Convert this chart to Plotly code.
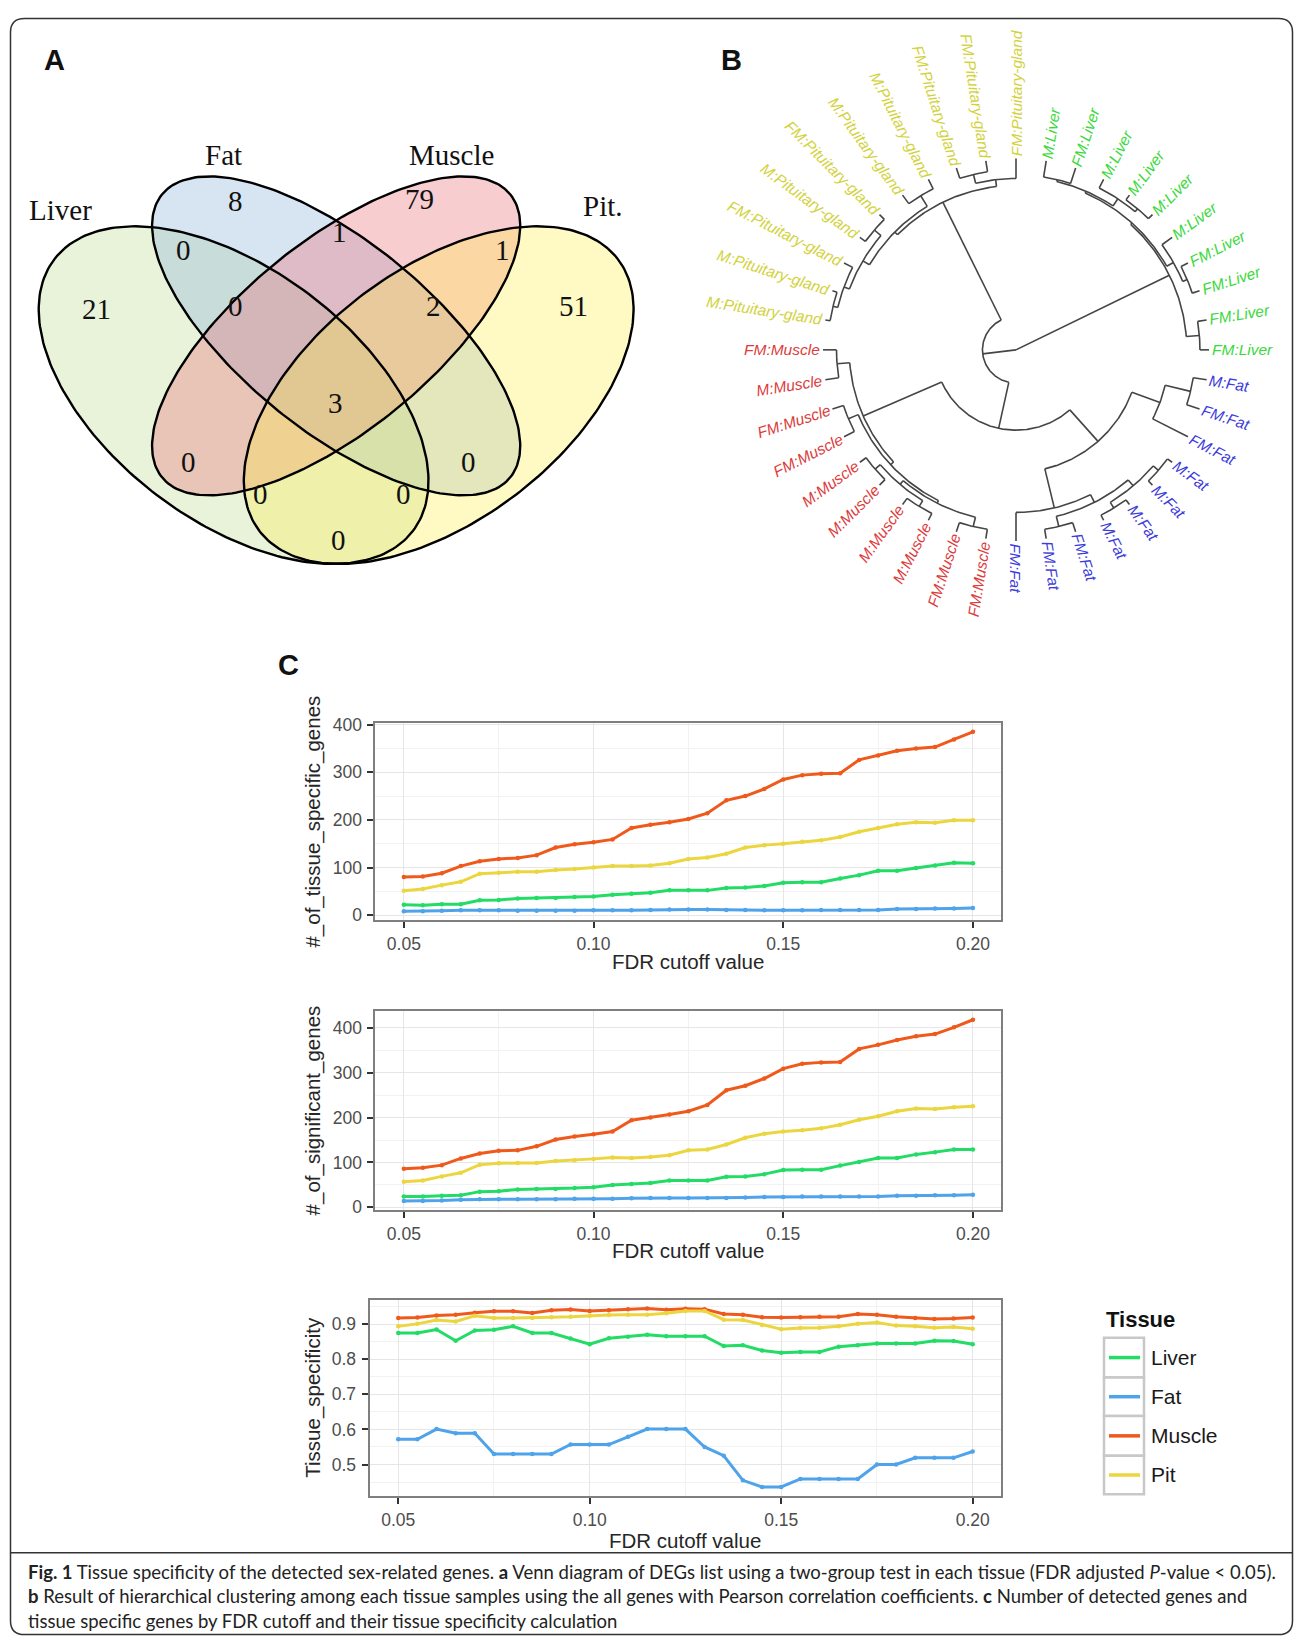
import numpy as np
import plotly.graph_objects as go

W, H = 1295, 1644

# ======================= DATA =======================
# ---- Panel A: Venn diagram (number of sex-related DEGs) ----
venn_sets = ["Liver", "Fat", "Muscle", "Pit."]
venn_regions = ["Liver", "Fat", "Muscle", "Pit", "Liver&Fat", "Fat&Muscle", "Muscle&Pit",
                "Liver&Fat&Muscle", "Fat&Muscle&Pit", "Liver&Fat&Muscle&Pit", "Liver&Muscle",
                "Fat&Pit", "Liver&Muscle&Pit", "Liver&Fat&Pit", "Liver&Pit"]
venn_counts = [21, 8, 79, 51, 0, 1, 1, 0, 2, 3, 0, 0, 0, 0, 0]

# ---- Panel B: hierarchical clustering (leaf order, clockwise from the right) ----
dendro_leaves = [
    "M:Fat", "FM:Fat", "FM:Fat", "M:Fat", "M:Fat", "M:Fat", "M:Fat", "FM:Fat", "FM:Fat", "FM:Fat",
    "FM:Muscle", "FM:Muscle", "M:Muscle", "M:Muscle", "M:Muscle", "M:Muscle", "FM:Muscle", "FM:Muscle", "M:Muscle", "FM:Muscle",
    "M:Pituitary-gland", "M:Pituitary-gland", "FM:Pituitary-gland", "M:Pituitary-gland", "FM:Pituitary-gland",
    "M:Pituitary-gland", "M:Pituitary-gland", "FM:Pituitary-gland", "FM:Pituitary-gland", "FM:Pituitary-gland",
    "M:Liver", "FM:Liver", "M:Liver", "M:Liver", "M:Liver", "M:Liver", "FM:Liver", "FM:Liver", "FM:Liver", "FM:Liver",
]
# merge tree: [node depth from root (leaf = 1), child, child]; ints are leaf indices
tree_liver = [0.885, [0.895, [0.905, [0.915, 30, 31], [0.95, 32, [0.97, 33, 34]]], [0.935, 35, [0.96, 36, 37]]],
              [0.953, 38, 39]]
tree_pit = [0.86, [0.88, [0.92, [0.95, [0.975, 20, 21], 22], [0.965, 23, 24]], [0.945, 25, 26]],
            [0.896, [0.943, 27, 28], 29]]
tree_muscle = [0.864, [0.93, 19, 18],
               [0.885, [0.94, 17, 16], [0.90, [0.925, [0.96, 15, 14], [0.96, 13, 12]], [0.95, 11, 10]]]]
tree_fat = [0.64, [0.795, [0.93, 0, 1], 2],
            [0.85, 9, [0.895, [0.95, 8, 7], [0.935, [0.97, 6, 5], [0.97, 4, 3]]]]]
dendro_tree = [0.0, tree_liver, [0.174, tree_pit, [0.42, tree_muscle, tree_fat]]]

# ---- Panel C ----
tissues = ["Liver", "Fat", "Muscle", "Pit"]
fdr_cutoff = [0.050, 0.055, 0.060, 0.065, 0.070, 0.075, 0.080, 0.085, 0.090, 0.095,
              0.100, 0.105, 0.110, 0.115, 0.120, 0.125, 0.130, 0.135, 0.140, 0.145,
              0.150, 0.155, 0.160, 0.165, 0.170, 0.175, 0.180, 0.185, 0.190, 0.195, 0.200]
x_tick_labels = ["0.05", "0.10", "0.15", "0.20"]

spec_liver = [22, 21, 23, 23, 31, 32, 35, 36, 36, 38, 39, 43, 45, 47, 52, 52, 52, 57, 58, 61,
              68, 69, 69, 77, 84, 93, 93, 99, 104, 110, 109]
spec_fat = [8, 8, 9, 10, 10, 10, 9, 9, 9, 9, 10, 10, 10, 11, 12, 12, 12, 11, 11, 10,
            10, 10, 11, 11, 11, 11, 13, 13, 14, 14, 15]
spec_muscle = [80, 81, 88, 103, 113, 118, 120, 126, 142, 149, 153, 159, 183, 190, 195, 202, 214, 241, 250, 265,
               285, 294, 297, 298, 326, 335, 345, 350, 353, 369, 385]
spec_pit = [51, 55, 63, 70, 87, 89, 91, 91, 95, 97, 100, 103, 103, 104, 109, 118, 121, 129, 142, 147,
            150, 154, 157, 164, 175, 183, 191, 195, 194, 199, 199]

sig_liver = [24, 24, 26, 27, 35, 36, 40, 41, 41, 43, 45, 50, 52, 54, 60, 60, 60, 68, 69, 74,
             83, 84, 84, 93, 101, 110, 110, 118, 123, 129, 129]
sig_fat = [14, 14, 15, 17, 18, 18, 18, 18, 18, 19, 19, 19, 20, 21, 21, 21, 21, 21, 22, 23,
           23, 24, 24, 24, 24, 24, 26, 26, 27, 27, 28]
sig_muscle = [86, 88, 94, 109, 120, 126, 127, 136, 151, 158, 163, 169, 194, 200, 207, 214, 228, 261, 271, 287,
              309, 320, 323, 324, 353, 362, 373, 381, 386, 401, 418]
sig_pit = [57, 60, 69, 77, 95, 98, 99, 99, 103, 105, 108, 111, 110, 112, 116, 127, 129, 140, 155, 164,
           169, 172, 176, 184, 195, 203, 214, 220, 219, 223, 225]

ts_liver = [0.875, 0.875, 0.885, 0.853, 0.882, 0.884, 0.894, 0.875, 0.875, 0.859,
            0.843, 0.860, 0.864, 0.870, 0.866, 0.866, 0.866, 0.838, 0.840, 0.825,
            0.819, 0.821, 0.821, 0.836, 0.840, 0.845, 0.845, 0.845, 0.853, 0.852, 0.843]
ts_fat = [0.572, 0.572, 0.601, 0.589, 0.589, 0.530, 0.530, 0.530, 0.530, 0.557,
          0.557, 0.557, 0.579, 0.601, 0.601, 0.601, 0.550, 0.525, 0.455, 0.436,
          0.436, 0.459, 0.459, 0.459, 0.459, 0.500, 0.500, 0.519, 0.519, 0.519, 0.537]
ts_muscle = [0.918, 0.919, 0.925, 0.927, 0.933, 0.937, 0.937, 0.932, 0.940, 0.942,
             0.938, 0.940, 0.943, 0.945, 0.941, 0.944, 0.943, 0.929, 0.927, 0.920,
             0.919, 0.920, 0.921, 0.921, 0.929, 0.927, 0.921, 0.918, 0.915, 0.916, 0.919]
ts_pit = [0.894, 0.901, 0.912, 0.908, 0.924, 0.918, 0.918, 0.918, 0.920, 0.921,
          0.924, 0.926, 0.927, 0.927, 0.931, 0.938, 0.938, 0.913, 0.912, 0.898,
          0.886, 0.889, 0.890, 0.894, 0.901, 0.905, 0.896, 0.894, 0.890, 0.892, 0.887]

# ======================= STYLE / LAYOUT =======================
def xdom(p0, p1):
    return [p0 / W, p1 / W]

def ydom(top, bot):
    return [1 - bot / H, 1 - top / H]

def PX(x):
    return x / W

def PY(y):
    return 1 - y / H

fig = go.Figure()
annotations = []
shapes = []

SANS = "Liberation Sans, Arial, sans-serif"
SERIF = "Liberation Serif, Times New Roman, serif"

def note(**kw):
    kw.setdefault("xanchor", "center")
    kw.setdefault("yanchor", "middle")
    kw.setdefault("showarrow", False)
    annotations.append(kw)

# ---------------- Panel A : Venn ----------------
venn_ellipses = {  # centre x, centre y, semi-major, semi-minor, rotation (deg)
    "Liver": (0.35, 0.47, 0.35, 0.20, 135),
    "Fat": (0.50, 0.57, 0.35, 0.15, 135),
    "Muscle": (0.50, 0.57, 0.35, 0.15, 45),
    "Pit.": (0.65, 0.47, 0.35, 0.20, 45),
}
venn_fill = {
    "Liver": "rgba(189,221,149,0.35)",
    "Fat": "rgba(141,178,218,0.35)",
    "Muscle": "rgba(235,112,121,0.35)",
    "Pit.": "rgba(255,240,60,0.30)",
}
venn_set_label_pos = {"Liver": (0.097, 0.783), "Fat": (0.335, 0.876),
                      "Muscle": (0.668, 0.876), "Pit.": (0.890, 0.790)}
venn_count_pos = {
    "Liver": (0.149, 0.615), "Fat": (0.353, 0.797), "Muscle": (0.622, 0.801), "Pit": (0.847, 0.620),
    "Liver&Fat": (0.277, 0.715), "Fat&Muscle": (0.505, 0.746), "Muscle&Pit": (0.743, 0.715),
    "Liver&Fat&Muscle": (0.353, 0.620), "Fat&Muscle&Pit": (0.642, 0.620),
    "Liver&Fat&Muscle&Pit": (0.499, 0.457), "Liver&Muscle": (0.284, 0.357), "Fat&Pit": (0.694, 0.357),
    "Liver&Muscle&Pit": (0.389, 0.303), "Liver&Fat&Pit": (0.599, 0.303), "Liver&Pit": (0.504, 0.225),
}

t = np.linspace(0, 2 * np.pi, 240)
ell_xy = {}
for s in venn_sets:
    cx, cy, a, b, rot = venn_ellipses[s]
    th = np.deg2rad(rot)
    ex = cx + a * np.cos(t) * np.cos(th) - b * np.sin(t) * np.sin(th)
    ey = cy + a * np.cos(t) * np.sin(th) + b * np.sin(t) * np.cos(th)
    ell_xy[s] = (ex, ey)
    fig.add_trace(go.Scatter(x=ex, y=ey, xaxis="x", yaxis="y", mode="lines", fill="toself",
                             fillcolor=venn_fill[s], line=dict(width=0), hoverinfo="skip",
                             showlegend=False))
for s in venn_sets:
    ex, ey = ell_xy[s]
    fig.add_trace(go.Scatter(x=ex, y=ey, xaxis="x", yaxis="y", mode="lines",
                             line=dict(color="black", width=2.4), hoverinfo="skip", showlegend=False))
for s in venn_sets:
    ux, uy = venn_set_label_pos[s]
    note(x=ux, y=uy, xref="x", yref="y", text=s, font=dict(family=SERIF, size=29, color="#111"))
for reg, cnt in zip(venn_regions, venn_counts):
    ux, uy = venn_count_pos[reg]
    note(x=ux, y=uy, xref="x", yref="y", text=str(cnt), font=dict(family=SERIF, size=29, color="#111"))

# ---------------- Panel B : circular dendrogram ----------------
CX, CY, R = 1016, 345, 193
LEAF_STEP = 360.0 / len(dendro_leaves)
tissue_col = {"Fat": "#3c3cdc", "Muscle": "#dc3c3c", "Pituitary-gland": "#d2d23c", "Liver": "#3cd83c"}

seg_x, seg_y = [], []

def pol(r, ang):
    a = np.deg2rad(ang)
    return r * np.cos(a), -r * np.sin(a)

def draw_node(node):
    if isinstance(node, int):
        return LEAF_STEP * (node + 1), 1.0
    r, c1, c2 = node
    a1, r1 = draw_node(c1)
    a2, r2 = draw_node(c2)
    for ang, rc in ((a1, r1), (a2, r2)):
        x0, y0 = pol(r, ang)
        x1, y1 = pol(rc, ang)
        seg_x.extend([x0, x1, None])
        seg_y.extend([y0, y1, None])
    if r > 0:
        lo, hi = sorted([a1, a2])
        angs = np.linspace(lo, hi, max(4, int((hi - lo) * 1.5)))
        ax, ay = pol(r, angs)
        seg_x.extend(list(ax) + [None])
        seg_y.extend(list(ay) + [None])
    return (a1 + a2) / 2, r

draw_node(dendro_tree)
fig.add_trace(go.Scatter(x=seg_x, y=seg_y, xaxis="x2", yaxis="y2", mode="lines",
                         line=dict(color="#454545", width=1.6), hoverinfo="skip", showlegend=False))

ARIAL_W = {'F': 611, 'M': 833, ':': 278, 'P': 667, 'i': 222, 't': 278, 'u': 556, 'a': 556, 'r': 333,
           'y': 500, '-': 333, 'g': 556, 'l': 222, 'n': 556, 'd': 556, 'L': 556, 'v': 500, 'e': 556,
           's': 500, 'c': 500}
LEAF_FS = 15.5
LEAF_GAP = 3.0
for i, lab in enumerate(dendro_leaves):
    ang = LEAF_STEP * (i + 1)
    w = sum(ARIAL_W.get(ch, 556) for ch in lab) * LEAF_FS / 1000.0
    rc = 1 + (LEAF_GAP + w / 2) / R
    x, y = pol(rc, ang)
    norm = ((ang + 180) % 360) - 180
    if -90 <= norm <= 90:
        ta = norm
    else:
        ta = norm - 180 if norm > 0 else norm + 180
    col = tissue_col[lab.split(":")[1]]
    note(x=x, y=y, xref="x2", yref="y2", text="<i>" + lab + "</i>", textangle=ta,
         font=dict(family=SANS, size=LEAF_FS, color=col))

# ---------------- Panel C : line charts ----------------
line_col = {"Liver": "#22dc66", "Fat": "#4ea3ea", "Muscle": "#ef5a1c", "Pit": "#ecd640"}
panels = [
    dict(n=3, xl=375.4, xr=1001.4, yt=721.4, yb=920.7, title="#_of_tissue_specific_genes",
         series=[spec_liver, spec_fat, spec_muscle, spec_pit],
         yticks=[0, 100, 200, 300, 400], yticktext=["0", "100", "200", "300", "400"],
         yminor=[50, 150, 250, 350], xtitle_y=962),
    dict(n=4, xl=375.4, xr=1001.4, yt=1011.9, yb=1213.2, title="#_of_significant_genes",
         series=[sig_liver, sig_fat, sig_muscle, sig_pit],
         yticks=[0, 100, 200, 300, 400], yticktext=["0", "100", "200", "300", "400"],
         yminor=[50, 150, 250, 350], xtitle_y=1253.5),
    dict(n=5, xl=369.5, xr=1001.4, yt=1303.4, yb=1501.6, title="Tissue_specificity",
         series=[ts_liver, ts_fat, ts_muscle, ts_pit],
         yticks=[0.5, 0.6, 0.7, 0.8, 0.9], yticktext=["0.5", "0.6", "0.7", "0.8", "0.9"],
         yminor=[0.45, 0.55, 0.65, 0.75, 0.85, 0.95], xtitle_y=1547),
]
xmin, xmax = min(fdr_cutoff), max(fdr_cutoff)
xpad = 0.05 * (xmax - xmin)
layout_axes = {}
for p in panels:
    n = p["n"]
    allv = [v for s in p["series"] for v in s]
    ymin, ymax = min(allv), max(allv)
    ypad = 0.05 * (ymax - ymin)
    for tis, ser in zip(tissues, p["series"]):
        fig.add_trace(go.Scatter(x=fdr_cutoff, y=ser, xaxis=f"x{n}", yaxis=f"y{n}", mode="lines+markers",
                                 line=dict(color=line_col[tis], width=3),
                                 marker=dict(color=line_col[tis], size=4.5),
                                 name=tis, showlegend=False, hoverinfo="skip"))
    common = dict(showline=True, linecolor="#7f7f7f", linewidth=2, mirror=True,
                  ticks="outside", ticklen=6, tickwidth=2, tickcolor="#333333",
                  tickfont=dict(family=SANS, size=17.5, color="#4d4d4d"),
                  showgrid=True, gridcolor="#e6e6e6", gridwidth=1.2, zeroline=False, fixedrange=True)
    layout_axes[f"xaxis{n}"] = dict(domain=xdom(p["xl"], p["xr"]), range=[xmin - xpad, xmax + xpad],
                                    anchor=f"y{n}", tickmode="array",
                                    tickvals=[0.05, 0.10, 0.15, 0.20], ticktext=x_tick_labels,
                                    minor=dict(tickmode="array", tickvals=[0.075, 0.125, 0.175], showgrid=True,
                                               gridcolor="#f2f2f2", gridwidth=1, ticks=""),
                                    ticklabelstandoff=1, **common)
    layout_axes[f"yaxis{n}"] = dict(domain=ydom(p["yt"], p["yb"]), range=[ymin - ypad, ymax + ypad],
                                    anchor=f"x{n}", tickmode="array",
                                    tickvals=p["yticks"], ticktext=p["yticktext"],
                                    minor=dict(tickmode="array", tickvals=p["yminor"], showgrid=True,
                                               gridcolor="#f2f2f2", gridwidth=1, ticks=""),
                                    ticklabelstandoff=2, **common)
    note(x=PX(313), y=PY((p["yt"] + p["yb"]) / 2), xref="paper", yref="paper",
         text=p["title"], textangle=-90, font=dict(family=SANS, size=20.5, color="#262626"))
    note(x=PX((p["xl"] + p["xr"]) / 2), y=PY(p["xtitle_y"]), xref="paper", yref="paper",
         text="FDR cutoff value", font=dict(family=SANS, size=20.5, color="#262626"))

# legend for panel C (ggplot-style keys)
note(x=PX(1104), y=PY(1324), xref="paper", yref="paper", text="<b>Tissue</b>", xanchor="left",
     font=dict(family=SANS, size=22, color="#111"))
leg_rows = [(1342, 1382), (1382, 1421), (1421, 1461), (1461, 1500)]
for tis, (r0, r1) in zip(tissues, leg_rows):
    shapes.append(dict(type="rect", xref="paper", yref="paper", x0=PX(1104), x1=PX(1144), y0=PY(r1), y1=PY(r0),
                       line=dict(color="#c8c8c8", width=2.5), fillcolor="white", layer="above"))
    ym = (r0 + r1) / 2
    shapes.append(dict(type="line", xref="paper", yref="paper", x0=PX(1109), x1=PX(1140), y0=PY(ym), y1=PY(ym),
                       line=dict(color=line_col[tis], width=3.5), layer="above"))
    note(x=PX(1149), y=PY(ym), xref="paper", yref="paper", text=tis, xanchor="left",
         font=dict(family=SANS, size=21, color="#1a1a1a"))

# panel letters
for letter, (lx, ly) in {"A": (54.5, 52.4), "B": (731, 52.4), "C": (288.4, 662.7)}.items():
    note(x=PX(lx), y=PY(ly), xref="paper", yref="paper", text="<b>" + letter + "</b>",
         font=dict(family=SANS, size=29, color="#111"))

# caption
caption_lines = [
    "<b>Fig. 1</b> Tissue specificity of the detected sex-related genes. <b>a</b> Venn diagram of DEGs list using a "
    "two-group test in each tissue (FDR adjusted <i>P</i>-value &lt; 0.05).",
    "<b>b</b> Result of hierarchical clustering among each tissue samples using the all genes with Pearson "
    "correlation coefficients. <b>c</b> Number of detected genes and",
    "tissue specific genes by FDR cutoff and their tissue specificity calculation",
]
for k, line in enumerate(caption_lines):
    note(x=PX(26), y=PY(1578 + 25 * k), xref="paper", yref="paper", text=line, xanchor="left",
         font=dict(family="Lato, Roboto, sans-serif", size=18.5, color="#222"))

# outer rounded frame and caption separator
x0f, y0f, x1f, y1f, rr = 10.5, 10.5, 1292.5, 1641.5, 14
frame = (f"M {PX(x0f + rr)},{PY(y0f)} L {PX(x1f - rr)},{PY(y0f)} Q {PX(x1f)},{PY(y0f)} {PX(x1f)},{PY(y0f + rr)} "
         f"L {PX(x1f)},{PY(y1f - rr)} Q {PX(x1f)},{PY(y1f)} {PX(x1f - rr)},{PY(y1f)} "
         f"L {PX(x0f + rr)},{PY(y1f)} Q {PX(x0f)},{PY(y1f)} {PX(x0f)},{PY(y1f - rr)} "
         f"L {PX(x0f)},{PY(y0f + rr)} Q {PX(x0f)},{PY(y0f)} {PX(x0f + rr)},{PY(y0f)} Z")
shapes.append(dict(type="path", xref="paper", yref="paper", path=frame, line=dict(color="#333", width=1.5)))
shapes.append(dict(type="line", xref="paper", yref="paper", x0=PX(x0f), x1=PX(x1f), y0=PY(1559), y1=PY(1559),
                   line=dict(color="#333", width=1.5)))

hidden = dict(visible=False, showgrid=False, zeroline=False, fixedrange=True)
fig.update_layout(
    width=W, height=H, margin=dict(l=0, r=0, t=0, b=0),
    paper_bgcolor="white", plot_bgcolor="white", showlegend=False,
    xaxis=dict(domain=xdom(28.49, 643.8), range=[0.05, 0.95], anchor="y", **hidden),
    yaxis=dict(domain=ydom(133.67, 581.95), range=[0.15, 0.90], anchor="x", **hidden),
    xaxis2=dict(domain=xdom(CX - 1.45 * R, CX + 1.40 * R), range=[-1.45, 1.40], anchor="y2", **hidden),
    yaxis2=dict(domain=ydom(CY - 1.45 * R, CY + 1.45 * R), range=[-1.45, 1.45], anchor="x2", **hidden),
    annotations=annotations, shapes=shapes,
    **layout_axes,
)

fig.write_html("out.html", config={"displayModeBar": False},
               post_script="document.body.style.margin='0px';document.body.style.overflow='hidden';")
